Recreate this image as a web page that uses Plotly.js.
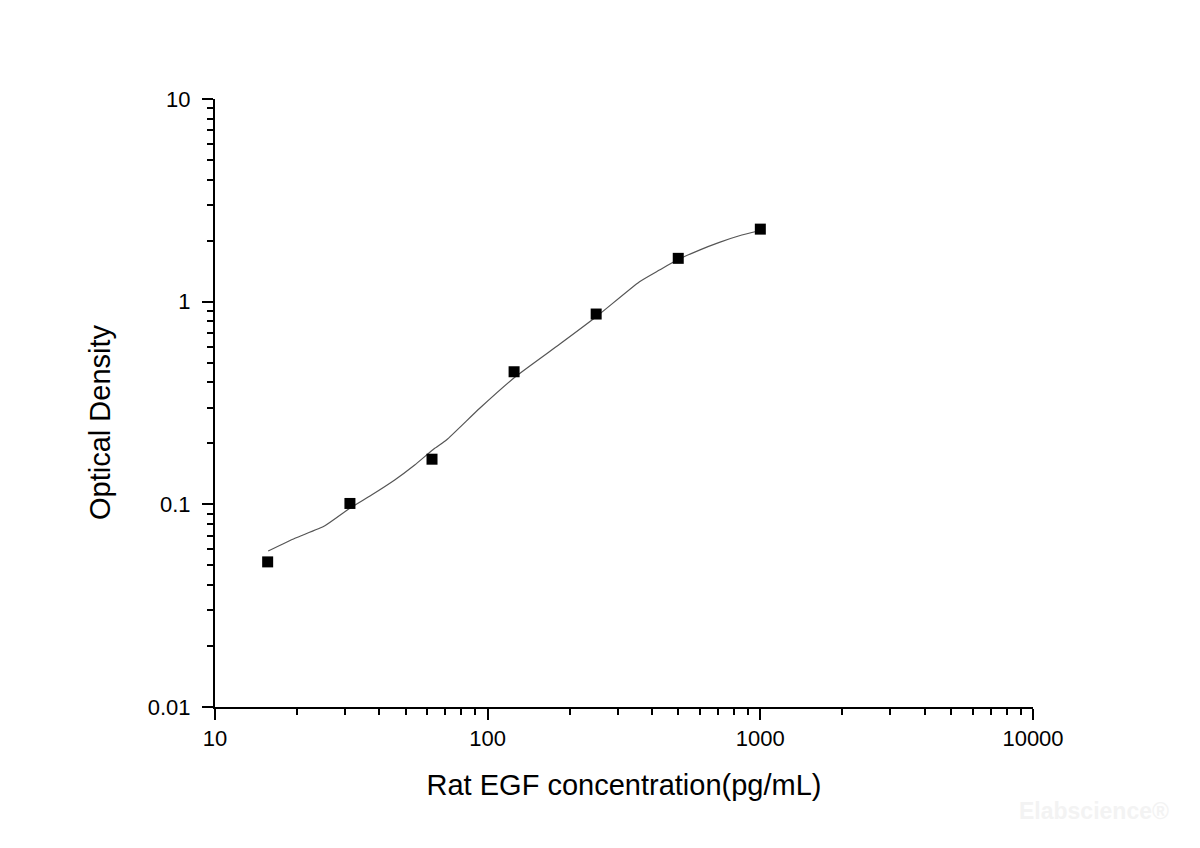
<!DOCTYPE html>
<html>
<head>
<meta charset="utf-8">
<script src="https://cdn.plot.ly/plotly-3.0.1.min.js"></script>
<style>
  html, body { margin: 0; padding: 0; background: #fff; }
  #chart { width: 1200px; height: 848px; }
</style>
</head>
<body>
<div id="chart"></div>
<script>
// Standard points (pg/mL vs OD)
const conc = [15.6, 31.25, 62.5, 125, 250, 500, 1000];
const od = [0.052, 0.101, 0.167, 0.451, 0.869, 1.636, 2.28];

// Fitted curve
const fitX = [15.67, 19.64, 25.29, 31.22, 37.5, 45.6, 54.0, 63.96, 70.6, 93.5,
              127.4, 183.5, 250.1, 360.5, 426.6, 495.3, 597.9, 707.6, 837.6, 991.6];
const fitY = [0.0588, 0.068, 0.0784, 0.0956, 0.1111, 0.1318, 0.1563, 0.189, 0.2076, 0.2977,
              0.4295, 0.616, 0.842, 1.254, 1.432, 1.604, 1.797, 1.962, 2.114, 2.238];

// Axis ticks
const xTickVals = [10, 100, 1000, 10000];
const xTickText = ["10", "100", "1000", "10000"];
const xMinorVals = [20, 30, 40, 50, 60, 70, 80, 90,
                    200, 300, 400, 500, 600, 700, 800, 900,
                    2000, 3000, 4000, 5000, 6000, 7000, 8000, 9000];
const yTickVals = [0.01, 0.1, 1, 10];
const yTickText = ["0.01", "0.1", "1", "10"];
const yMinorVals = [0.02, 0.03, 0.04, 0.05, 0.06, 0.07, 0.08, 0.09,
                    0.2, 0.3, 0.4, 0.5, 0.6, 0.7, 0.8, 0.9,
                    2, 3, 4, 5, 6, 7, 8, 9];

const FONT = "Arial, 'Liberation Sans', sans-serif";

const traces = [
  {
    x: fitX, y: fitY, mode: "lines", type: "scatter",
    line: { color: "#555", width: 1.2, shape: "spline", smoothing: 0.5 },
    hoverinfo: "skip",
  },
  {
    x: conc, y: od, mode: "markers", type: "scatter",
    marker: { symbol: "square", size: 11, color: "#000" },
  },
];

function axisBase(tickvals, ticktext, minorvals) {
  return {
    type: "log",
    showline: true, linewidth: 2, linecolor: "#000",
    showgrid: false, zeroline: false,
    ticks: "outside", ticklen: 11, tickwidth: 2, tickcolor: "#000",
    tickmode: "array", tickvals, ticktext,
    tickfont: { family: FONT, size: 22, color: "#000" },
    minor: {
      ticks: "outside", ticklen: 6, tickwidth: 2, tickcolor: "#000",
      tickmode: "array", tickvals: minorvals, showgrid: false,
    },
  };
}

const layout = {
  width: 1200, height: 848,
  paper_bgcolor: "#fff", plot_bgcolor: "#fff",
  showlegend: false,
  margin: { l: 215, r: 167, t: 99, b: 141 },
  font: { family: FONT, color: "#000" },
  xaxis: Object.assign(axisBase(xTickVals, xTickText, xMinorVals), {
    range: [1, 4],
    title: { text: "Rat EGF concentration(pg/mL)", font: { family: FONT, size: 29 }, standoff: 24 },
  }),
  yaxis: Object.assign(axisBase(yTickVals, yTickText, yMinorVals), {
    range: [-2, 1],
    ticklabelstandoff: 7,
  }),
  annotations: [
    {
      text: "Optical Density", xref: "paper", yref: "paper",
      x: -0.1406, y: 0.4688, xanchor: "center", yanchor: "middle", textangle: -90,
      showarrow: false, font: { family: FONT, size: 29, color: "#000" },
    },
    {
      text: "<b>Elabscience®</b>", xref: "paper", yref: "paper",
      x: 1.0746, y: -0.171, xanchor: "center", yanchor: "middle",
      showarrow: false, font: { family: FONT, size: 23, color: "#f3f3f3" },
    },
  ],
};

Plotly.newPlot("chart", traces, layout, { displayModeBar: false, staticPlot: true });
</script>
</body>
</html>
